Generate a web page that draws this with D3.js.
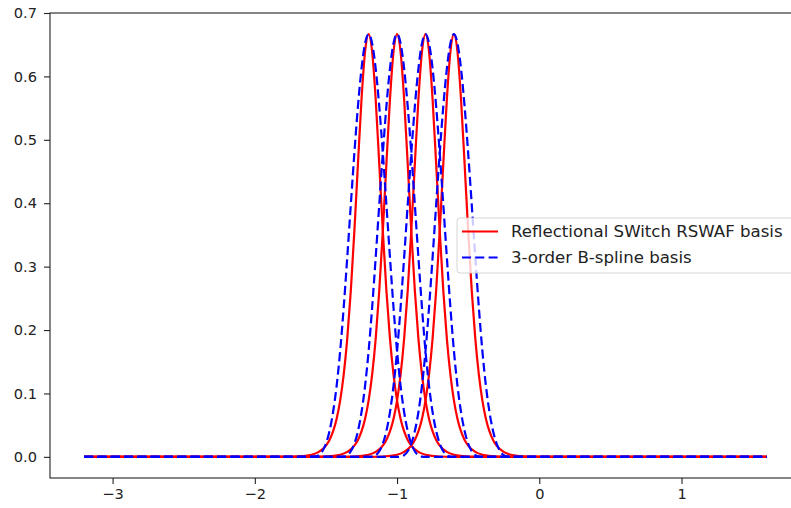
<!DOCTYPE html>
<html>
<head>
<meta charset="utf-8">
<script src="https://cdn.jsdelivr.net/npm/d3@7"></script>
<style>
  html, body { margin: 0; padding: 0; background: #fff; overflow: hidden; }
  text { font-family: "DejaVu Sans", sans-serif; }
</style>
</head>
<body>
<svg id="chart" width="791" height="508"></svg>
<script>
// ---- data ----
const xTicks = [-3, -2, -1, 0, 1];
const yTicks = [0.0, 0.1, 0.2, 0.3, 0.4, 0.5, 0.6, 0.7];
const centers = [-1.2, -1.0, -0.8, -0.6];
const xStart = -3.2;
const xEnd = 1.6;
// one-sided profile (distance from centre -> value), mirrored about each centre
const bsplineOffsets = [0, 0.025, 0.05, 0.075, 0.1, 0.125, 0.15, 0.175, 0.2, 0.225, 0.25, 0.275, 0.3, 0.325, 0.35, 0.375, 0.4];
const bsplineValues  = [0.6667, 0.6520, 0.6120, 0.5524, 0.4792, 0.3981, 0.3151, 0.2360, 0.1667, 0.1117, 0.0703, 0.0407, 0.0208, 0.0088, 0.0026, 0.0003, 0];
const rswafOffsets = [0, 0.025, 0.05, 0.075, 0.1, 0.125, 0.15, 0.175, 0.2, 0.225, 0.25, 0.275, 0.3, 0.35, 0.4, 0.5, 0.6, 0.7];
const rswafValues  = [0.6667, 0.6385, 0.5631, 0.4616, 0.3563, 0.2626, 0.1869, 0.1299, 0.0887, 0.0599, 0.0401, 0.0267, 0.0177, 0.0078, 0.0034, 0.0006, 0.0001, 0];
const seriesNames = ["Reflectional SWitch RSWAF basis", "3-order B-spline basis"];

// ---- layout ----
const W = 791, H = 508;
const plot = { left: 50, right: 801, top: 13, bottom: 478 };
const svg = d3.select("#chart");

const x = d3.scaleLinear().domain([-3.44, 1.84]).range([plot.left, plot.right]);
const y = d3.scaleLinear().domain([-0.7 / 21, 0.7]).range([plot.bottom, plot.top]);

function buildCurve(c, offsets, values) {
  const pts = [[xStart, 0]];
  for (let i = offsets.length - 1; i > 0; i--) pts.push([c - offsets[i], values[i]]);
  for (let i = 0; i < offsets.length; i++) pts.push([c + offsets[i], values[i]]);
  pts.push([xEnd, 0]);
  return pts;
}

const line = d3.line().x(d => x(d[0])).y(d => y(d[1])).curve(d3.curveMonotoneX);

const curves = svg.append("g");
centers.forEach(c => {
  curves.append("path")
    .attr("d", line(buildCurve(c, rswafOffsets, rswafValues)))
    .attr("fill", "none").attr("stroke", "#ff0000").attr("stroke-width", 2.2);
});
centers.forEach(c => {
  curves.append("path")
    .attr("d", line(buildCurve(c, bsplineOffsets, bsplineValues)))
    .attr("fill", "none").attr("stroke", "#0000ff").attr("stroke-width", 2.2)
    .attr("stroke-dasharray", "9,4.3");
});

// ---- axes ----
const xAxis = svg.append("g").attr("transform", `translate(0,${plot.bottom})`)
  .call(d3.axisBottom(x).tickValues(xTicks).tickSize(6).tickPadding(5).tickFormat(d3.format("d")));
const yAxis = svg.append("g").attr("transform", `translate(${plot.left},0)`)
  .call(d3.axisLeft(y).tickValues(yTicks).tickSize(6).tickPadding(7).tickFormat(d3.format(".1f")));
[xAxis, yAxis].forEach(a => {
  a.select(".domain").remove();
  a.selectAll(".tick line").attr("stroke", "#222").attr("stroke-width", 1.1);
  a.selectAll(".tick text").attr("fill", "#222").style("font-size", "14.6px")
    .style("font-family", "'DejaVu Sans', sans-serif");
});

// spines
svg.append("rect")
  .attr("x", plot.left).attr("y", plot.top)
  .attr("width", plot.right - plot.left).attr("height", plot.bottom - plot.top)
  .attr("fill", "none").attr("stroke", "#222").attr("stroke-width", 1.1);

// ---- legend ----
const lg = svg.append("g");
lg.append("rect")
  .attr("x", 457).attr("y", 218).attr("width", 337).attr("height", 55).attr("rx", 3)
  .attr("fill", "#fff").attr("fill-opacity", 0.8)
  .attr("stroke", "#cccccc").attr("stroke-opacity", 0.8).attr("stroke-width", 1);
const legendItems = [
  { name: seriesNames[0], color: "#ff0000", dash: null, cy: 231.5 },
  { name: seriesNames[1], color: "#0000ff", dash: "9,4.3", cy: 257.5 }
];
legendItems.forEach(it => {
  const l = lg.append("line").attr("x1", 462).attr("x2", 498).attr("y1", it.cy).attr("y2", it.cy)
    .attr("stroke", it.color).attr("stroke-width", 2.2);
  if (it.dash) l.attr("stroke-dasharray", it.dash);
  lg.append("text").attr("x", 511).attr("y", it.cy).attr("dy", "0.35em")
    .attr("fill", "#222").style("font-size", "16.6px").text(it.name);
});
</script>
</body>
</html>
